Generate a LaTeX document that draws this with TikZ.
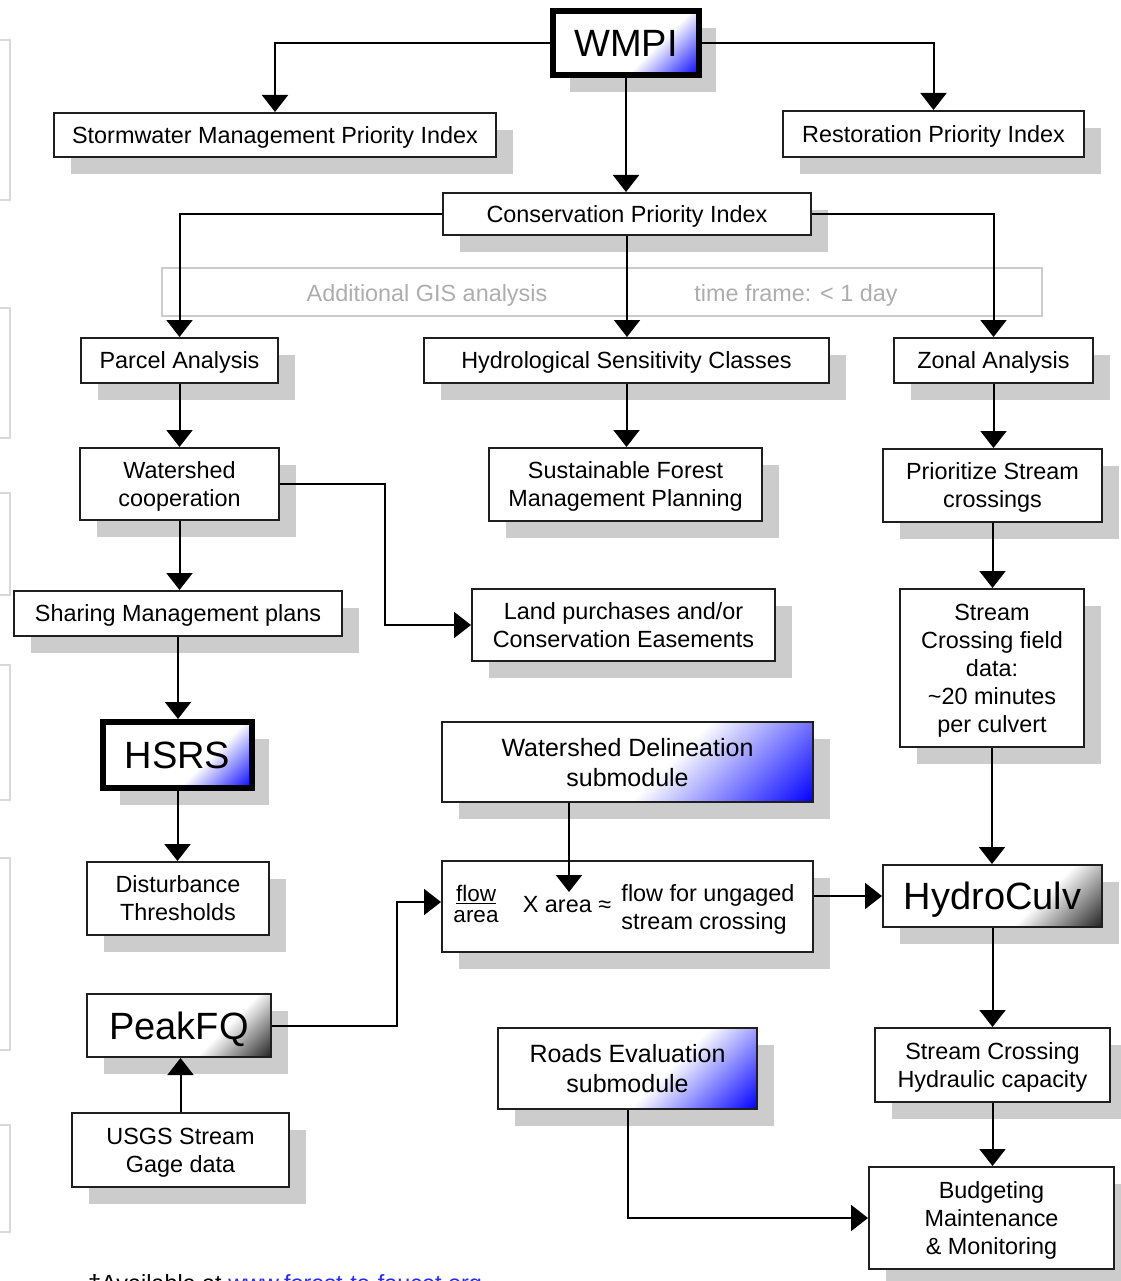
\documentclass[tikz,border=0pt]{standalone}
\usepackage{fontspec}
\setmainfont{Liberation Sans}
\usetikzlibrary{arrows.meta,shadows,calc}
\definecolor{shadowgray}{gray}{0.8}
\definecolor{boxline}{gray}{0.12}
\definecolor{gistext}{gray}{0.68}
\definecolor{gisline}{gray}{0.8}
\definecolor{faintline}{gray}{0.85}
\definecolor{linkblue}{RGB}{40,40,255}
\pgfdeclarehorizontalshading{gradblue}{100bp}{color(0bp)=(white); color(68bp)=(white); color(85.5bp)=(blue); color(100bp)=(blue)}
\pgfdeclarehorizontalshading{gradblack}{100bp}{color(0bp)=(white); color(71bp)=(white); color(86bp)=(black!90); color(100bp)=(black!90)}
\newcommand\boxfont{\fontsize{23.4}{28}\selectfont}
\newcommand\subfont{\fontsize{25}{30}\selectfont}
\newcommand\bigfont{\fontsize{38}{44}\selectfont}
\newcommand\fracfont{\fontsize{22.5}{21}\selectfont}
\tikzset{
  box/.style={draw=boxline, line width=2pt, fill=white, align=center, font=\boxfont, inner sep=0pt, text depth=0pt,
    general shadow={shadow xshift=17pt, shadow yshift=-17pt, fill=shadowgray}},
  heavybox/.style={box, draw=black, line width=6pt},
  gradfill/.style={path picture={\shade[shading=#1, shading angle=-45]
      let \p1=(path picture bounding box.north west), \p2=(path picture bounding box.south east) in
      (\x1,\y2) rectangle (\x2,\y2+\x2-\x1);}},
  arr/.style={line width=2pt, -{Triangle[length=17pt,width=26pt]}},
  faint/.style={draw=faintline, line width=1.5pt},
  plain/.style={inner sep=0pt, font=\boxfont, text depth=0pt},
}
\begin{document}
\begin{tikzpicture}[x=1pt,y=-1pt]
\useasboundingbox (0,0) rectangle (1120,1281);

% faint partial boxes at the left edge
\draw[faint] (-5,40) rectangle (10,200);
\draw[faint] (-5,308) rectangle (10,438);
\draw[faint] (-5,493) rectangle (10,595);
\draw[faint] (-5,665) rectangle (10,800);
\draw[faint] (-5,858) rectangle (10,1050);
\draw[faint] (-5,1125) rectangle (10,1232);

% GIS band
\node[draw=gisline, line width=1.5pt, minimum width=880pt, minimum height=48pt, inner sep=0pt] (gis) at (602,292) {};
\node[plain, text=gistext] (gisa) at (427,293) {Additional GIS analysis};
\node[plain, text=gistext] (gisb) at (796,293) {time frame: < 1 day};

% boxes
\node[heavybox, gradfill=gradblue, font=\bigfont, minimum width=146pt, minimum height=64pt] (wmpi) at (626,43) {WMPI};
\node[box, minimum width=442pt, minimum height=44pt] (storm) at (275,135) {Stormwater Management Priority Index};
\node[box, minimum width=301pt, minimum height=46pt] (restore) at (933.5,134) {Restoration Priority Index};
\node[box, minimum width=368pt, minimum height=42pt] (cons) at (627,214) {Conservation Priority Index};

\node[box, minimum width=197pt, minimum height=45pt] (parcel) at (179.5,360.5) {Parcel Analysis};
\node[box, minimum width=405pt, minimum height=45pt] (hydro) at (626.5,360.5) {Hydrological Sensitivity Classes};
\node[box, minimum width=199pt, minimum height=45pt] (zonal) at (993.5,360.5) {Zonal Analysis};

\node[box, minimum width=199pt, minimum height=72pt] (wcoop) at (179.5,484) {Watershed\\cooperation};
\node[box, minimum width=273pt, minimum height=73pt] (sfmp) at (625.5,484.5) {Sustainable Forest\\Management Planning};
\node[box, minimum width=219pt, minimum height=73pt] (prio) at (992.5,485.5) {Prioritize Stream\\crossings};

\node[box, minimum width=328pt, minimum height=45pt] (sharing) at (178,613.5) {Sharing Management plans};
\node[box, minimum width=303pt, minimum height=72pt] (land) at (623.5,625) {Land purchases and/or\\Conservation Easements};
\node[box, minimum width=184pt, minimum height=158pt] (field) at (992,668) {Stream\\Crossing field\\data:\\\textasciitilde20 minutes\\per culvert};

\node[heavybox, gradfill=gradblue, font=\bigfont, minimum width=149pt, minimum height=66pt] (hsrs) at (177.5,755) {HSRS};
\node[box, font=\subfont, gradfill=gradblue, minimum width=371pt, minimum height=80pt] (wdel) at (627.5,762) {Watershed Delineation\\submodule};

\node[box, minimum width=182pt, minimum height=73pt] (dist) at (178,898.5) {Disturbance\\Thresholds};
\node[box, minimum width=371pt, minimum height=91pt] (flow) at (627.5,906.5) {};
\node[box, font=\bigfont, gradfill=gradblack, minimum width=219pt, minimum height=62pt] (hculv) at (992.5,896) {HydroCulv};

\node[plain, font=\fracfont, align=center] (frac) at (476,904) {\underline{flow}\\area};
\node[plain] (xarea) at (567,904) {X area ≈};
\node[plain, align=left] (ungaged) at (708,907) {flow for ungaged\\stream crossing};
\coordinate (xin) at (569,892);

\node[box, font=\bigfont, gradfill=gradblack, minimum width=184pt, minimum height=63pt] (peak) at (179,1025.5) {PeakFQ};
\node[box, font=\subfont, gradfill=gradblue, minimum width=259pt, minimum height=81pt] (roads) at (627.5,1068.5) {Roads Evaluation\\submodule};
\node[box, minimum width=235pt, minimum height=74pt] (hyd) at (992.5,1065) {Stream Crossing\\Hydraulic capacity};

\node[box, minimum width=217pt, minimum height=74pt] (usgs) at (180.5,1150) {USGS Stream\\Gage data};
\node[box, minimum width=245pt, minimum height=102pt] (budget) at (991.5,1218) {Budgeting\\Maintenance\\\& Monitoring};

\node[plain, anchor=base west] (avail) at (88,1291) {†Available at \textcolor{linkblue}{www.forest-to-faucet.org}};

% connectors
\draw[arr] (wmpi.west) -| (storm.north);
\draw[arr] (wmpi.east) -| (restore.north);
\draw[arr] (wmpi.south) -- (wmpi.south |- cons.north);
\draw[arr] (cons.west) -| (parcel.north);
\draw[arr] (cons.south) -- (cons.south |- hydro.north);
\draw[arr] (cons.east) -| (zonal.north);
\draw[arr] (parcel.south) -- (parcel.south |- wcoop.north);
\draw[arr] (hydro.south) -- (hydro.south |- sfmp.north);
\draw[arr] (zonal.south) -- (zonal.south |- prio.north);
\draw[arr] (wcoop.south) -- (wcoop.south |- sharing.north);
\draw[arr] (wcoop.east) -- ++(105,0) |- (land.west);
\draw[arr] (prio.south) -- (prio.south |- field.north);
\draw[arr] (sharing.south) -- (sharing.south |- hsrs.north);
\draw[arr] (hsrs.south) -- (hsrs.south |- dist.north);
\draw[arr] (field.south) -- (field.south |- hculv.north);
\draw[arr] (wdel.south -| xin) -- (xin);
\draw[arr] (flow.east |- hculv.west) -- (hculv.west);
\draw[arr] (peak.east) -- ++(125,0) |- ([yshift=4.5pt]flow.west);
\draw[arr] (usgs.north) -- (usgs.north |- peak.south);
\draw[arr] (hculv.south) -- (hculv.south |- hyd.north);
\draw[arr] (hyd.south) -- (hyd.south |- budget.north);
\draw[arr] (roads.south) |- (budget.west);
\end{tikzpicture}
\end{document}
